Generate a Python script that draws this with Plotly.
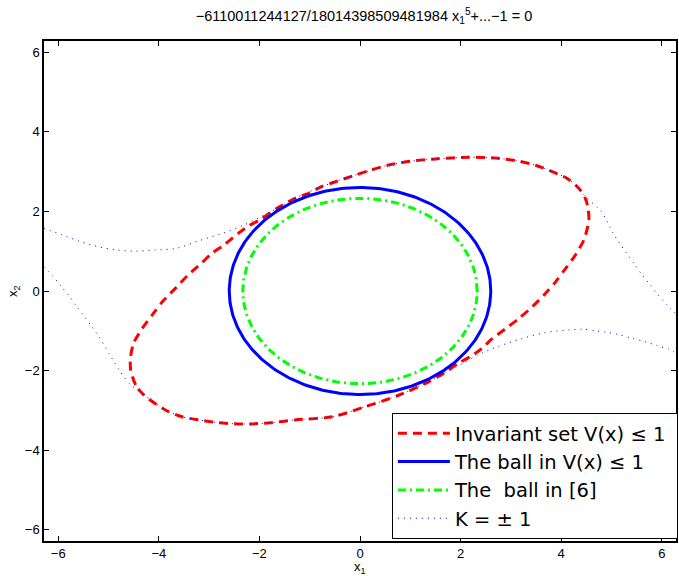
import numpy as np
import plotly.graph_objects as go

# ---------------- data ----------------
# Invariant set V(x) <= 1 (closed curve)
red_x = [-4.30, -4.46, -4.56, -4.56, -4.50, -4.33, -4.13, -3.93, -3.66, -3.43, -3.16, -2.94,
         -2.71, -2.42, -2.22, -1.95, -1.66, -1.29, -1.03, -0.77, -0.50, -0.10, 0.22, 0.55,
         1.00, 1.50, 2.14, 2.70, 3.13, 3.49, 3.82, 4.12, 4.35, 4.48, 4.53, 4.55, 4.45, 4.28,
         4.09, 3.89, 3.66, 3.43, 3.16, 2.90, 2.60, 2.42, 2.22, 1.95, 1.66, 1.29, 0.77, 0.10,
         -0.55, -1.29, -1.76, -2.15, -2.42, -2.81, -3.21, -3.54, -3.87, -4.30]
red_y = [-2.61, -2.36, -1.98, -1.65, -1.31, -0.94, -0.60, -0.27, 0.08, 0.39, 0.69, 0.95,
         1.15, 1.45, 1.63, 1.82, 2.07, 2.33, 2.45, 2.62, 2.74, 2.91, 3.04, 3.16,
         3.26, 3.32, 3.36, 3.34, 3.27, 3.16, 3.00, 2.83, 2.58, 2.33, 2.10, 1.78, 1.28, 0.90,
         0.57, 0.23, -0.10, -0.39, -0.69, -0.94, -1.23, -1.45, -1.63, -1.82, -2.07, -2.33, -2.62, -2.91,
         -3.16, -3.24, -3.31, -3.34, -3.34, -3.31, -3.24, -3.16, -2.99, -2.61]

# Ball radii
ball_r = 2.60
ball6_r = 2.33

# K = +1 curve (upper)
kp_x = [-6.283, -5.92, -5.56, -5.20, -4.82, -4.46, -4.07, -3.66, -3.21, -2.73, -2.34, -2.00,
        -1.66, -1.29, -0.77, -0.10, 0.55, 1.00, 1.50, 2.14, 2.70, 3.13, 3.49, 3.82, 4.12,
        4.35, 4.51, 4.78, 5.03, 5.16, 5.31, 5.46, 5.60, 5.76, 5.91, 6.09, 6.283]
kp_y = [1.57, 1.41, 1.24, 1.11, 1.03, 1.00, 1.03, 1.07, 1.26, 1.45, 1.64, 1.85,
        2.07, 2.33, 2.62, 2.91, 3.16, 3.26, 3.32, 3.36, 3.34, 3.27, 3.16, 3.00, 2.83,
        2.58, 2.33, 2.03, 1.46, 1.20, 0.93, 0.67, 0.42, 0.17, -0.08, -0.33, -0.58]

# K = -1 curve (lower)
km_x = [-6.283, -6.11, -5.95, -5.78, -5.64, -5.49, -5.33, -5.19, -4.99, -4.79, -4.59, -4.43,
        -4.30, -3.87, -3.54, -3.21, -2.81, -2.42, -2.15, -1.76, -1.29, -0.55, 0.10, 0.77,
        1.29, 1.66, 2.00, 2.34, 2.73, 3.19, 3.66, 4.15, 4.42, 4.68, 4.91, 5.16, 5.41, 5.66,
        5.90, 6.13, 6.283]
km_y = [0.61, 0.38, 0.13, -0.13, -0.38, -0.63, -0.90, -1.15, -1.57, -1.98, -2.32, -2.49,
        -2.61, -2.99, -3.16, -3.24, -3.31, -3.34, -3.34, -3.31, -3.24, -3.16, -2.91, -2.62,
        -2.33, -2.07, -1.85, -1.61, -1.40, -1.21, -1.05, -0.98, -0.96, -1.00, -1.04, -1.10, -1.19, -1.27,
        -1.37, -1.46, -1.56]

ticks = [-6, -4, -2, 0, 2, 4, 6]
title_text = "\u22126110011244127/18014398509481984 x<sub>1</sub><sup>5</sup>+...\u22121 = 0"
names = ["Invariant set V(x) \u2264 1", "The ball in V(x) \u2264 1",
         "The \u00a0ball in [6]", "K = \u00b1 1"]

# --------------------------------------------------------------
th = np.linspace(0, 2 * np.pi, 361)
FONT = "Arial, Liberation Sans, Helvetica, sans-serif"
PAD = "\u00a0"  # invisible right padding inside the legend box

fig = go.Figure()
fig.add_trace(go.Scatter(x=red_x, y=red_y, mode="lines", name=names[0] + PAD,
                         line=dict(color="#ff0000", width=3, dash="9px,6px", shape="spline", smoothing=0.8)))
fig.add_trace(go.Scatter(x=ball_r * np.cos(th), y=ball_r * np.sin(th), mode="lines", name=names[1],
                         line=dict(color="#0000ff", width=3)))
fig.add_trace(go.Scatter(x=ball6_r * np.cos(th), y=ball6_r * np.sin(th), mode="lines", name=names[2],
                         line=dict(color="#00ff00", width=3, dash="8px,4px,2px,4px")))
fig.add_trace(go.Scatter(x=kp_x, y=kp_y, mode="lines", name=names[3], legendgroup="k",
                         line=dict(color="#0000ff", width=1, dash="1px,5px", shape="spline", smoothing=0.8)))
fig.add_trace(go.Scatter(x=km_x, y=km_y, mode="lines", name=names[3], legendgroup="k", showlegend=False,
                         line=dict(color="#0000ff", width=1, dash="1px,5px", shape="spline", smoothing=0.8)))

axis_common = dict(range=[-2 * np.pi, 2 * np.pi], tickvals=ticks,
                   ticktext=[("\u2212" + str(-t)) if t < 0 else str(t) for t in ticks],
                   ticks="inside", ticklen=5, tickwidth=1, tickcolor="#000000",
                   showline=True, linecolor="#000000", linewidth=1.5, mirror="ticks",
                   showgrid=False, zeroline=False, tickfont=dict(size=13, color="#000000", family=FONT))

fig.update_layout(
    width=679, height=576,
    margin=dict(l=44, r=1, t=41, b=35),
    paper_bgcolor="white", plot_bgcolor="white",
    font=dict(family=FONT, color="#000000"),
    title=dict(text=title_text, x=0.536, xanchor="center", y=0.972, yanchor="middle",
               font=dict(size=14.5, family=FONT, color="#000000")),
    xaxis=axis_common,
    yaxis=axis_common,
    showlegend=True,
    legend=dict(x=1.003, y=0.004, xanchor="right", yanchor="bottom",
                bgcolor="white", bordercolor="#000000", borderwidth=1, itemwidth=52,
                font=dict(size=19.5, family="DejaVu Sans, Arial, sans-serif", color="#000000"), tracegroupgap=0),
    annotations=[
        dict(text="x<sub>1</sub>", xref="paper", yref="paper", x=0.5, y=0, yshift=-26,
             showarrow=False, font=dict(size=13), xanchor="center", yanchor="middle"),
        dict(text="x<sub>2</sub>", xref="paper", yref="paper", x=0, y=0.5, xshift=-31,
             showarrow=False, font=dict(size=13), textangle=-90, xanchor="center", yanchor="middle"),
    ],
)

fig.write_html("out.html")
